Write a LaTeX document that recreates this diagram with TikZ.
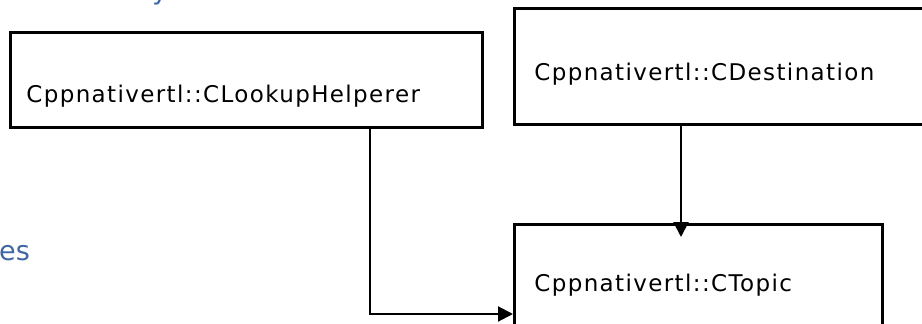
\documentclass[tikz,border=0pt]{standalone}
\usepackage{fontspec}
\usepackage{tikz}
\usetikzlibrary{positioning,arrows.meta}
\newfontfamily\boxfont[LetterSpace=6]{DejaVu Sans}
\newfontfamily\headfont{DejaVu Sans}
\definecolor{headblue}{RGB}{62,104,164}
\newcommand{\lowered}[2]{\raisebox{-#1}[\height][\depth]{#2}}
\tikzset{
	classbox/.style={draw, line width=2.8pt, anchor=north west, inner ysep=0pt,
		inner xsep=#1, align=left, font=\boxfont\fontsize{23pt}{27pt}\selectfont},
	link/.style={line width=2pt, ->},
	heading/.style={anchor=base west, inner sep=0pt, text=headblue,
		font=\headfont\fontsize{27pt}{31pt}\selectfont}
}

\begin{document}
\begin{tikzpicture}[x=1pt, y=-1pt, >={Triangle[length=15pt,width=15pt]}]

		\useasboundingbox (0,0) rectangle (922,324);
		\clip (0,0) rectangle (922,324);

		%the cut-off headings of the page
		\node[heading] (ytext) at (152,-0.5) {y};
		\node[heading] (estext) at (-1,260) {es};

		%the classes
		\node[classbox=16pt, minimum width=472pt, minimum height=95pt, text width=440pt] (helper) at (9,31) {\lowered{16pt}{Cppnativertl::CLookupHelperer}};
		\node[classbox=20pt, minimum width=422pt, minimum height=116pt, text width=382pt] (dest) at (513,7) {\lowered{7.5pt}{Cppnativertl::CDestination}};
		\node[classbox=20pt, minimum width=368pt, minimum height=117pt, text width=328pt] (topic) at (513,223) {\lowered{2.5pt}{Cppnativertl::CTopic}};

		%the links
		\draw[link] ([xshift=361pt]helper.south west) |- ([yshift=-91pt]topic.north west);
		\draw[link] ([xshift=168pt]dest.south west) -- ([xshift=168pt,yshift=-14pt]topic.north west);

	\end{tikzpicture}
\end{document}
